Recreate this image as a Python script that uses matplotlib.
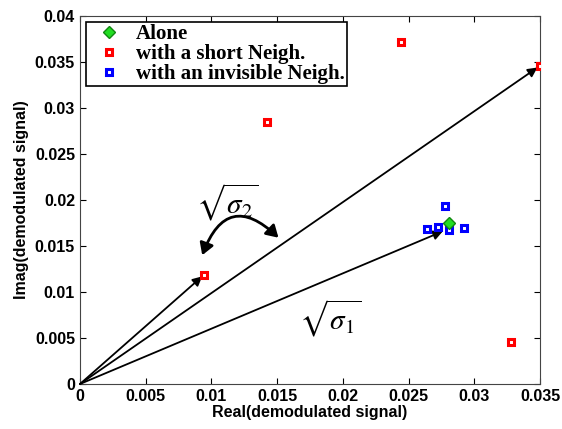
import numpy as np
import matplotlib.pyplot as plt
from matplotlib.patches import FancyArrowPatch

plt.rcParams['mathtext.fontset'] = 'stix'

# data
alone_x = [0.0281]
alone_y = [0.0175]
short_x = [0.0094, 0.0142, 0.0244, 0.0350, 0.0328]
short_y = [0.0119, 0.0285, 0.0372, 0.0346, 0.0046]
invis_x = [0.0278, 0.0264, 0.0272, 0.0281, 0.0292]
invis_y = [0.0193, 0.0169, 0.0171, 0.0167, 0.0170]
# arrow tips from the origin
tips_x = [0.0093, 0.0348, 0.0276]
tips_y = [0.0117, 0.0344, 0.0166]

fig = plt.figure(figsize=(5.62, 4.29), dpi=100)
ax = fig.add_axes([0.1423, 0.1049, 0.8187, 0.8578])

for tx, ty in zip(tips_x, tips_y):
    ax.annotate('', xy=(tx, ty), xytext=(0, 0),
                arrowprops=dict(arrowstyle='-|>', color='black', lw=1.3,
                                mutation_scale=14, shrinkA=0, shrinkB=0))

ax.plot(alone_x, alone_y, 'D', color='#22dd22', mec='#118811', ms=6,
        label='Alone', zorder=5)
ax.plot(short_x, short_y, 's', mfc='white', mec='red', mew=2.2, ms=5,
        label='with a short Neigh.', zorder=4)
ax.plot(invis_x, invis_y, 's', mfc='white', mec='blue', mew=2.2, ms=5,
        label='with an invisible Neigh.', zorder=4)

curve = FancyArrowPatch((0.0093, 0.0140), (0.0151, 0.0159),
                        connectionstyle='arc3,rad=-0.75',
                        arrowstyle='<|-|>,head_length=0.5,head_width=0.3',
                        color='black', lw=2, mutation_scale=14,
                        shrinkA=0, shrinkB=0)
ax.add_patch(curve)

ax.text(0.0112, 0.0198, r'$\sqrt{\sigma_2}$', fontsize=21, ha='center', va='center')
ax.text(0.0190, 0.0072, r'$\sqrt{\sigma_1}$', fontsize=21, ha='center', va='center')

ax.set_xlim(0, 0.035)
ax.set_ylim(0, 0.04)
ax.set_xticks(np.arange(0, 0.0351, 0.005))
ax.set_yticks(np.arange(0, 0.0401, 0.005))
ax.set_xticklabels(['0', '0.005', '0.01', '0.015', '0.02', '0.025', '0.03', '0.035'])
ax.set_yticklabels(['0', '0.005', '0.01', '0.015', '0.02', '0.025', '0.03', '0.035', '0.04'])
ax.tick_params(direction='in', top=True, right=True, length=4, labelsize=11.5)
for lab in ax.get_xticklabels() + ax.get_yticklabels():
    lab.set_fontweight('bold')
    lab.set_family('Liberation Sans')
for s in ax.spines.values():
    s.set_color('#444444')

ax.set_xlabel('Real(demodulated signal)', fontsize=11.5, fontweight='bold',
              family='Liberation Sans', labelpad=1)
ax.set_ylabel('Imag(demodulated signal)', fontsize=11.5, fontweight='bold',
              family='Liberation Sans', labelpad=4)

leg = ax.legend(loc='upper left', prop={'family': 'Liberation Serif', 'weight': 'bold', 'size': 15},
                fancybox=False, edgecolor='black', framealpha=1, borderpad=0.1,
                labelspacing=0.0, handletextpad=0.3, borderaxespad=0.3,
                handlelength=2.0)
leg.get_frame().set_linewidth(1.2)

fig.savefig('out.png', dpi=100)
